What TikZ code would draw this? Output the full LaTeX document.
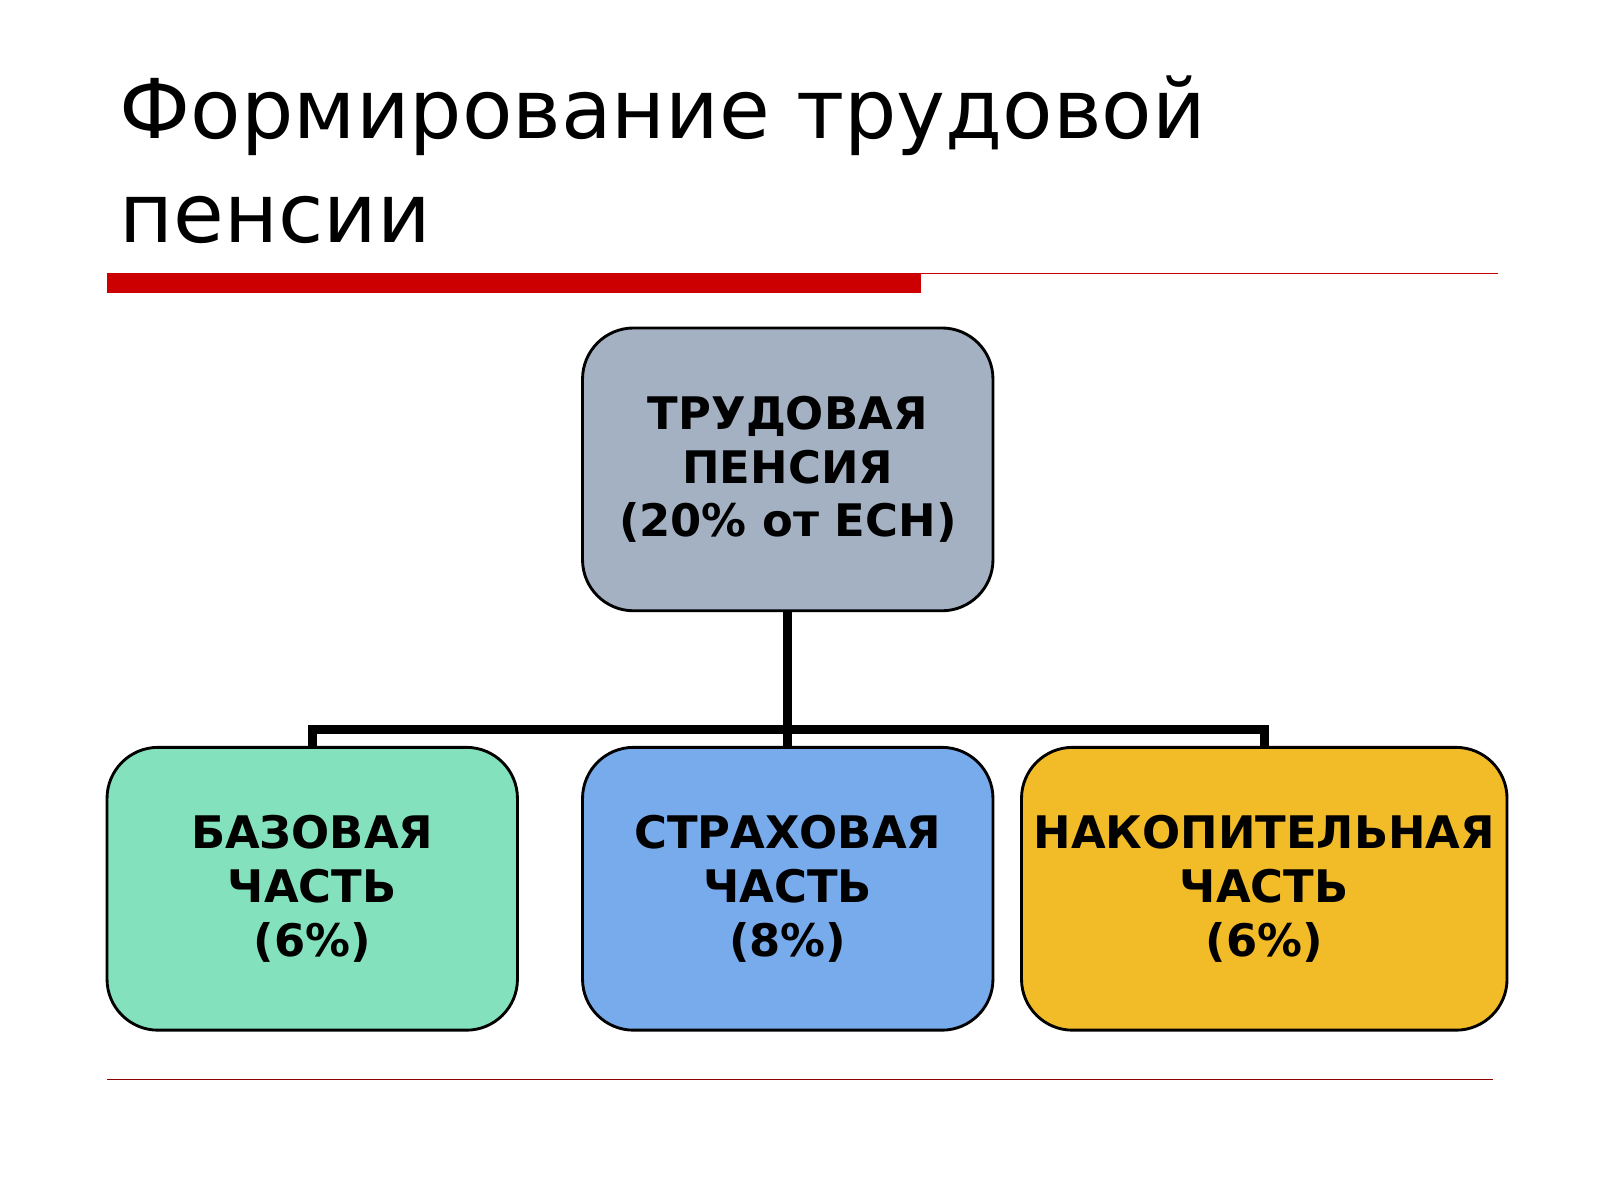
\documentclass[tikz,border=0pt]{standalone}
\usepackage{fontspec}
\setmainfont{DejaVu Sans}
\usetikzlibrary{positioning}
\definecolor{topgray}{HTML}{A3B1C2}
\definecolor{basegreen}{HTML}{83E2BD}
\definecolor{insblue}{HTML}{78ABEB}
\definecolor{accyellow}{HTML}{F2BC29}
\definecolor{barred}{HTML}{CC0000}
\begin{document}
\begin{tikzpicture}[x=0.01cm,y=-0.01cm]
\tikzstyle{part}=[
  rectangle, rounded corners=5mm,
  draw, line width=0.8pt,
  minimum width=4.02cm, minimum height=2.77cm,
  align=center, font=\bfseries\fontsize{12.5}{15}\selectfont ]
\tikzstyle{link}=[line width=2.4pt]
\useasboundingbox[fill=white] (0,0) rectangle (1568,1176);
% title
\node (title) [anchor=north west, align=left, font=\fontsize{23}{29}\selectfont]
  at (105,62) {Формирование трудовой\\пенсии};
\fill[barred] (105,268) rectangle (903,287);
\draw[barred, line width=0.5pt] (903,268) -- (1468,268);
\draw[barred!70!black, line width=0.3pt] (105,1058) -- (1463,1058);
% boxes
\node (pension) [part, fill=topgray] at (772,460) {ТРУДОВАЯ\\ПЕНСИЯ\\(20\% от ЕСН)};
\node (base) [part, fill=basegreen] at (306,871) {БАЗОВАЯ\\ЧАСТЬ\\(6\%)};
\node (insur) [part, fill=insblue] at (772,871) {СТРАХОВАЯ\\ЧАСТЬ\\(8\%)};
\node (accum) [part, fill=accyellow] at (1239,871) {НАКОПИТЕЛЬНАЯ\\ЧАСТЬ\\(6\%)};
% connectors
\coordinate (fork) at (772,715);
\draw[link] (pension.south) -- (fork) -- (insur.north);
\draw[link] (base.north) |- (fork) -| (accum.north);
\end{tikzpicture}
\end{document}
